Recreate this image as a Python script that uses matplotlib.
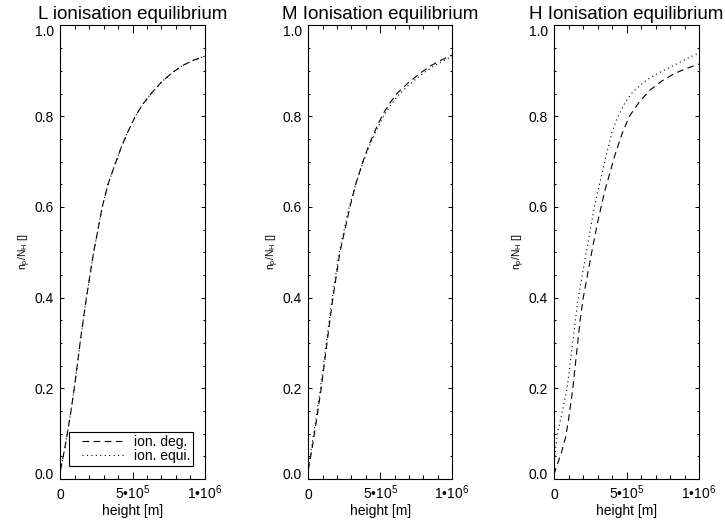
import matplotlib

matplotlib.use("Agg")
import matplotlib.pyplot as plt
from matplotlib.legend_handler import HandlerLine2D
from matplotlib.lines import Line2D
from matplotlib.ticker import FixedLocator, MultipleLocator

plt.rcParams["font.family"] = ["Liberation Sans", "DejaVu Sans"]
plt.rcParams["mathtext.fontset"] = "custom"
plt.rcParams["mathtext.rm"] = "Liberation Sans"
plt.rcParams["mathtext.it"] = "Liberation Sans:italic"
plt.rcParams["mathtext.bf"] = "Liberation Sans:bold"

# heights in units of 1e5 m
L_deg_h = [0, 0.25, 0.5, 0.75, 1.0, 1.4, 1.8, 2.3, 2.9, 3.3, 3.8, 4.2, 4.7, 5.2, 5.7, 6.3, 7.0, 7.8, 8.5, 9.2, 10.0]
L_deg_v = [0.02, 0.06, 0.105, 0.155, 0.21, 0.31, 0.40, 0.50, 0.60, 0.65, 0.695, 0.73, 0.767, 0.80, 0.826,
           0.85, 0.875, 0.897, 0.912, 0.923, 0.932]
L_equi_h = [0, 0.25, 0.5, 0.75, 1.0, 1.4, 1.8, 2.3, 2.9, 3.3, 3.8, 4.2, 4.7, 5.2, 5.7, 6.3, 7.0, 7.8, 8.5, 9.2, 10.0]
L_equi_v = [0.02, 0.06, 0.105, 0.155, 0.21, 0.31, 0.40, 0.50, 0.60, 0.65, 0.695, 0.73, 0.767, 0.80, 0.826,
            0.85, 0.875, 0.897, 0.912, 0.923, 0.932]

M_deg_h = [0, 0.25, 0.5, 0.9, 1.3, 1.67, 2.2, 2.9, 3.3, 3.8, 4.2, 4.7, 5.2, 5.7, 6.2, 7.0, 7.8, 8.5, 9.2, 10.0]
M_deg_v = [0.02, 0.065, 0.115, 0.20, 0.30, 0.39, 0.50, 0.60, 0.65, 0.70, 0.735, 0.772, 0.805, 0.83,
           0.851, 0.875, 0.895, 0.911, 0.923, 0.935]
M_equi_h = [0, 0.2, 0.45, 0.85, 1.25, 1.62, 2.15, 2.85, 3.3, 3.8, 4.2, 4.7, 5.2, 5.7, 6.2, 7.0, 7.8, 8.5, 9.2, 10.0]
M_equi_v = [0.025, 0.065, 0.115, 0.20, 0.30, 0.39, 0.50, 0.60, 0.65, 0.697, 0.73, 0.766, 0.798, 0.823,
            0.844, 0.869, 0.89, 0.906, 0.919, 0.932]

H_deg_h = [0, 0.15, 0.5, 0.8, 1.0, 1.3, 1.6, 1.8, 2.02, 2.6, 3.0, 3.5, 4.2, 4.7, 5.2, 5.9, 6.6, 7.4, 8.3, 9.2, 10.0]
H_deg_v = [0.01, 0.025, 0.057, 0.092, 0.13, 0.20, 0.29, 0.35, 0.40, 0.50, 0.565, 0.635, 0.714, 0.762, 0.80,
           0.832, 0.857, 0.877, 0.894, 0.906, 0.915]
H_equi_h = [0, 0.23, 0.55, 0.9, 1.25, 1.63, 1.9, 2.2, 2.78, 3.5, 4.0, 4.39, 4.9, 5.4, 5.93, 6.5, 7.2, 8.0, 9.0, 10.0]
H_equi_v = [0.03, 0.10, 0.145, 0.20, 0.29, 0.39, 0.44, 0.495, 0.60, 0.70, 0.765, 0.798, 0.83, 0.852, 0.868,
            0.882, 0.895, 0.908, 0.924, 0.94]

titles = ["L ionisation equilibrium", "M Ionisation equilibrium", "H Ionisation equilibrium"]
panels = [
    (L_deg_h, L_deg_v, L_equi_h, L_equi_v),
    (M_deg_h, M_deg_v, M_equi_h, M_equi_v),
    (H_deg_h, H_deg_v, H_equi_h, H_equi_v),
]
xtick_vals = [0, 5e5, 1e6]
xtick_labels = ["0", "5\u202210$^{5}$", "1\u202210$^{6}$"]
ytick_vals = [0.0, 0.2, 0.4, 0.6, 0.8, 1.0]
ytick_labels = ["0.0", "0.2", "0.4", "0.6", "0.8", "1.0"]
legend_labels = ["ion. deg.", "ion. equi."]

W, H = 725, 526
lefts = [60.5, 308.3, 554.0]
widths = [144.0, 143.7, 145.0]
top_px, bot_px = 25.5, 479.0

fig = plt.figure(figsize=(W / 100, H / 100), dpi=100)

for i, (title, (dh, dv, eh, ev)) in enumerate(zip(titles, panels)):
    ax = fig.add_axes([lefts[i] / W, 1 - bot_px / H, widths[i] / W, (bot_px - top_px) / H])
    ax.plot([h * 1e5 for h in dh], dv, color="black", lw=0.8,
            linestyle=(0, (6, 4)), label=legend_labels[0])
    ax.plot([h * 1e5 for h in eh], ev, color="black", lw=0.8,
            linestyle=(0, (1, 3)), label=legend_labels[1])

    ax.set_xlim(0, 1e6)
    ax.set_ylim(0, 1)
    ax.xaxis.set_major_locator(FixedLocator(xtick_vals))
    ax.set_xticklabels(xtick_labels)
    ax.xaxis.set_minor_locator(MultipleLocator(1e5))
    ax.yaxis.set_major_locator(FixedLocator(ytick_vals))
    ax.set_yticklabels(ytick_labels)
    ax.yaxis.set_minor_locator(MultipleLocator(0.05))

    ax.tick_params(axis="both", which="both", direction="in", top=True, right=True,
                   width=0.7, labelsize=10)
    ax.tick_params(axis="x", which="major", length=5.4, pad=14.5)
    ax.tick_params(axis="x", which="minor", length=2.7)
    ax.tick_params(axis="y", which="major", length=2.9, pad=4.5)
    ax.tick_params(axis="y", which="minor", length=1.6)
    for lbl in ax.get_xticklabels():
        lbl.set_verticalalignment("baseline")
    ylbls = ax.get_yticklabels()
    ylbls[0].set_verticalalignment("baseline")
    ylbls[-1].set_verticalalignment("top")
    for sp in ax.spines.values():
        sp.set_linewidth(0.8)

    ax.set_title(title, fontsize=13.5, pad=5)
    ax.set_xlabel("height [m]", fontsize=10, labelpad=1)
    ax.set_ylabel(r"n$_{\mathrm{p}}$/N$_{\mathrm{H}}$ []", fontsize=7.5, labelpad=1)

    if i == 0:
        ax.legend(loc="lower left", bbox_to_anchor=(0.059, 0.029), fontsize=10,
                  frameon=True, fancybox=False, framealpha=1, edgecolor="black",
                  handlelength=3.8, handletextpad=0.7, borderpad=0.2,
                  labelspacing=0.0, borderaxespad=0,
                  handler_map={Line2D: HandlerLine2D(xpad=0.75)})
        ax.get_legend().get_frame().set_linewidth(0.8)

fig.savefig("out.png", dpi=100)
